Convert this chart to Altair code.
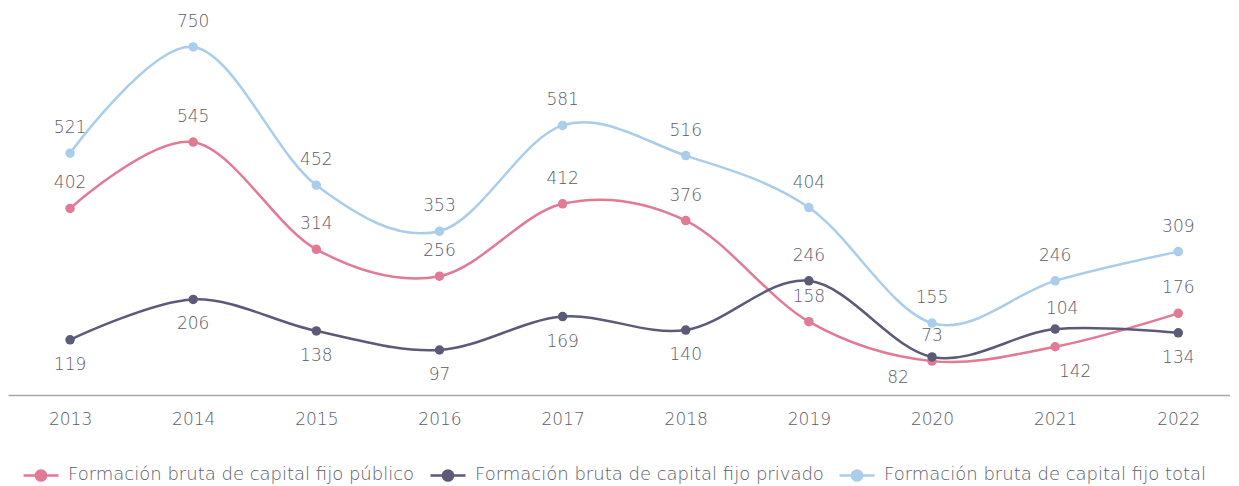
import altair as alt
import pandas as pd

years = [2013, 2014, 2015, 2016, 2017, 2018, 2019, 2020, 2021, 2022]
publico = [402, 545, 314, 256, 412, 376, 158, 73, 104, 176]
privado = [119, 206, 138, 97, 169, 140, 246, 82, 142, 134]
total = [521, 750, 452, 353, 581, 516, 404, 155, 246, 309]

series_names = [
    "Formación bruta de capital fijo público",
    "Formación bruta de capital fijo privado",
    "Formación bruta de capital fijo total",
]
colors = ["#e17a94", "#5b5a78", "#a9cdea"]

# label placement style per point
side_publico = ["up", "up", "up", "up", "up", "up", "up", "up", "upfar", "up"]
side_privado = ["down", "down", "down", "down", "down", "down", "up", "downleft", "downfar", "down"]
side_total = ["up"] * 10
label_styles = {
    "up": (0, -25),
    "down": (0, 25),
    "upfar": (7, -38),
    "downleft": (-34, 21),
    "downfar": (20, 43),
}

rows = []
for name, vals, sides in zip(series_names, [publico, privado, total],
                             [side_publico, side_privado, side_total]):
    for y, v, s in zip(years, vals, sides):
        rows.append({"year": y, "value": v, "serie": name, "side": s})
df = pd.DataFrame(rows)

FONT = "DejaVu Sans"
TXT = "#5c5c68"
FS = 17

x = alt.X("year:Q", scale=alt.Scale(domain=[2012.496, 2022.42], nice=False, zero=False),
          axis=alt.Axis(values=years, format="d", title=None, ticks=False, grid=False,
                        domainColor="#a6a6a6", domainWidth=1.5, labelFontSize=FS,
                        labelColor=TXT, labelFont=FONT, labelFontWeight=300,
                        labelPadding=16))
y = alt.Y("value:Q", scale=alt.Scale(domain=[0, 834], nice=False), axis=None)

legend_path = ("M-1,0 L-0.29,0 M0.29,0 L1,0 "
               "M-0.29,0 A0.29,0.29 0 1,0 0.29,0 A0.29,0.29 0 1,0 -0.29,0 Z")

color = alt.Color("serie:N", scale=alt.Scale(domain=series_names, range=colors),
                  legend=alt.Legend(orient="none", legendX=14, legendY=448,
                                    direction="horizontal", title=None,
                                    symbolType=legend_path, symbolSize=1225,
                                    symbolStrokeWidth=2.5, labelFontSize=18,
                                    labelFont=FONT, labelColor=TXT, labelFontWeight=300,
                                    labelLimit=0, columnPadding=10, labelOffset=8,
                                    symbolOpacity=1, padding=0))

base = alt.Chart(df)

lines = base.mark_line(interpolate="cardinal", strokeWidth=2.5).encode(
    x=x, y=y, color=color)
points = base.mark_point(filled=True, size=90, opacity=1).encode(
    x=x, y=y,
    color=alt.Color("serie:N", scale=alt.Scale(domain=series_names, range=colors), legend=None))

label_layers = []
for key, (ddx, ddy) in label_styles.items():
    label_layers.append(
        base.transform_filter(alt.datum.side == key).mark_text(
            dx=ddx, dy=ddy, fontSize=FS, font=FONT, fontWeight=300, color=TXT
        ).encode(x=x, y=y, text="value:Q")
    )

chart = alt.layer(lines, points, *label_layers).properties(
    width=1222, height=387, padding=0, background="white"
).configure_view(stroke=None)

chart.save("out.html", embed_options={"renderer": "svg", "actions": False})
